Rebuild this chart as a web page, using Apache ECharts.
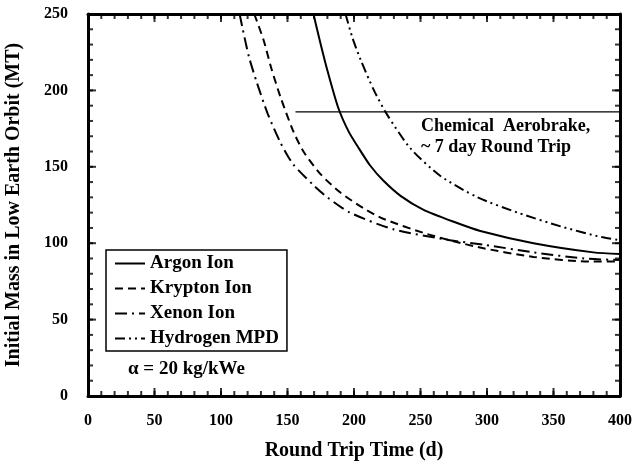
<!DOCTYPE html>
<html>
<head>
<meta charset="utf-8">
<script src="https://cdn.jsdelivr.net/npm/echarts@6/dist/echarts.min.js"></script>
<style>html,body{margin:0;padding:0;background:#fff}#c{width:632px;height:464px}</style>
</head>
<body>
<div id="c"></div>
<script>
// Data (Round Trip Time in days, Initial Mass in LEO in MT)
var argonX = [169.5, 175, 180, 188, 196, 203, 212, 222, 235, 252, 275, 295, 335, 380, 400];
var argonY = [250, 230, 213, 189, 173, 163, 151, 141, 131, 122, 114, 108, 100, 94, 93];
var kryptonX = [125, 132, 138, 144.6, 154, 162, 175, 190, 207, 222, 255, 293, 335, 378, 400];
var kryptonY = [250, 233, 214, 196, 174, 160, 145, 133, 123, 116, 106, 97.5, 91, 88, 88];
var xenonX = [114, 116, 121, 127, 135, 144.6, 154, 169.5, 180, 197, 230, 272, 297.5, 335, 373, 400];
var xenonY = [250, 241.5, 222, 205, 185, 166, 152, 138, 130, 120, 109, 102, 99, 94, 90, 89];
var hydrogenX = [193.6, 199, 205, 215, 225, 242.5, 265, 293, 323, 355.5, 386, 400];
var hydrogenY = [250, 234, 220, 200, 184, 162, 144, 130, 120, 111, 104, 102];
var chemX = [156, 400];
var chemY = [186, 186];
var xRange = [0, 400], xMajor = 50, xMinor = 10;
var yRange = [0, 250], yMajor = 50, yMinor = 10;
var seriesNames = ['Argon Ion', 'Krypton Ion', 'Xenon Ion', 'Hydrogen MPD'];

function zip(a, b) { return a.map(function (v, i) { return [v, b[i]]; }); }
function steps(r, s) { var o = []; for (var v = r[0]; v <= r[1]; v += s) o.push(v); return o; }

var font = '"Liberation Serif", "DejaVu Serif", serif';
var chart = echarts.init(document.getElementById('c'));

function frameAxis(kind, position, labelled, extra) {
  var r = kind === 'x' ? xRange : yRange;
  var a = {
    type: 'value', min: r[0], max: r[1], interval: kind === 'x' ? xMajor : yMajor, position: position,
    axisLine: { show: true, onZero: false, lineStyle: { color: '#000', width: 3 } },
    axisTick: { show: false },
    axisLabel: { show: labelled },
    splitLine: { show: false }
  };
  return Object.assign(a, extra || {});
}

function lineSeries(name, xs, ys, dash) {
  return {
    name: name, type: 'line', data: zip(xs, ys), symbol: 'none', smooth: 0.25,
    lineStyle: { color: '#000', width: 2, type: dash },
    itemStyle: { color: '#000' }, clip: true
  };
}

// inward tick marks on all four frame sides, drawn through the axes' scales
function tickSeries(side, step, len) {
  var data, size, off;
  if (side === 'bottom' || side === 'top') {
    var yv = side === 'bottom' ? yRange[0] : yRange[1];
    data = steps(xRange, step).map(function (v) { return [v, yv]; });
    size = [2, len];
    off = [0, side === 'bottom' ? -len / 2 : len / 2];
  } else {
    var xv = side === 'left' ? xRange[0] : xRange[1];
    data = steps(yRange, step).map(function (v) { return [xv, v]; });
    size = [len, 2];
    off = [side === 'left' ? len / 2 : -len / 2, 0];
  }
  return {
    type: 'scatter', data: data, symbol: 'rect', symbolSize: size, symbolOffset: off,
    itemStyle: { color: '#000' }, silent: true, clip: false, z: 5
  };
}

var labelStyle = { show: true, fontFamily: font, fontWeight: 'bold', fontSize: 16, color: '#000' };

chart.setOption({
  animation: false,
  backgroundColor: '#fff',
  grid: { left: 88, right: 12, top: 14, bottom: 68, outerBoundsMode: 'none' },
  xAxis: [
    frameAxis('x', 'bottom', true, {
      name: 'Round Trip Time (d)', nameLocation: 'middle', nameGap: 45,
      nameTextStyle: { fontFamily: font, fontWeight: 'bold', fontSize: 20, color: '#000' },
      axisLabel: Object.assign({ margin: 17 }, labelStyle)
    }),
    frameAxis('x', 'top', false)
  ],
  yAxis: [
    frameAxis('y', 'left', true, {
      name: 'Initial Mass in Low Earth Orbit (MT)', nameLocation: 'middle', nameGap: 64,
      nameTextStyle: { fontFamily: font, fontWeight: 'bold', fontSize: 20, color: '#000' },
      axisLabel: Object.assign({ margin: 20 }, labelStyle)
    }),
    frameAxis('y', 'right', false)
  ],
  legend: {
    data: seriesNames,
    orient: 'vertical', left: 106, top: 250,
    itemWidth: 30, itemHeight: 14, itemGap: 6,
    backgroundColor: '#fff',
    borderColor: '#000', borderWidth: 1.5, padding: [4, 8, 3, 8],
    itemStyle: { opacity: 0 },
    textStyle: { fontFamily: font, fontWeight: 'bold', fontSize: 19, color: '#000', lineHeight: 19 }
  },
  graphic: [
    { type: 'text', left: 128, top: 360, style: { text: 'α = 20 kg/kWe', font: 'bold 19px ' + font, fill: '#000' } },
    { type: 'text', left: 421, top: 116, style: { text: 'Chemical  Aerobrake,\n~ 7 day Round Trip', font: 'bold 18px ' + font, fill: '#000', lineHeight: 21 } }
  ],
  series: [
    lineSeries(seriesNames[0], argonX, argonY, 'solid'),
    lineSeries(seriesNames[1], kryptonX, kryptonY, [8, 5]),
    lineSeries(seriesNames[2], xenonX, xenonY, [12, 5, 2, 5]),
    lineSeries(seriesNames[3], hydrogenX, hydrogenY, [10, 4, 2, 4, 2, 4]),
    { name: 'chem', type: 'line', data: zip(chemX, chemY), symbol: 'none', lineStyle: { color: '#000', width: 1.2 }, silent: true },
    tickSeries('bottom', xMajor, 8), tickSeries('bottom', xMinor, 5),
    tickSeries('top', xMajor, 8), tickSeries('top', xMinor, 5),
    tickSeries('left', yMajor, 8), tickSeries('left', yMinor, 5),
    tickSeries('right', yMajor, 8), tickSeries('right', yMinor, 5)
  ]
});
</script>
</body>
</html>
